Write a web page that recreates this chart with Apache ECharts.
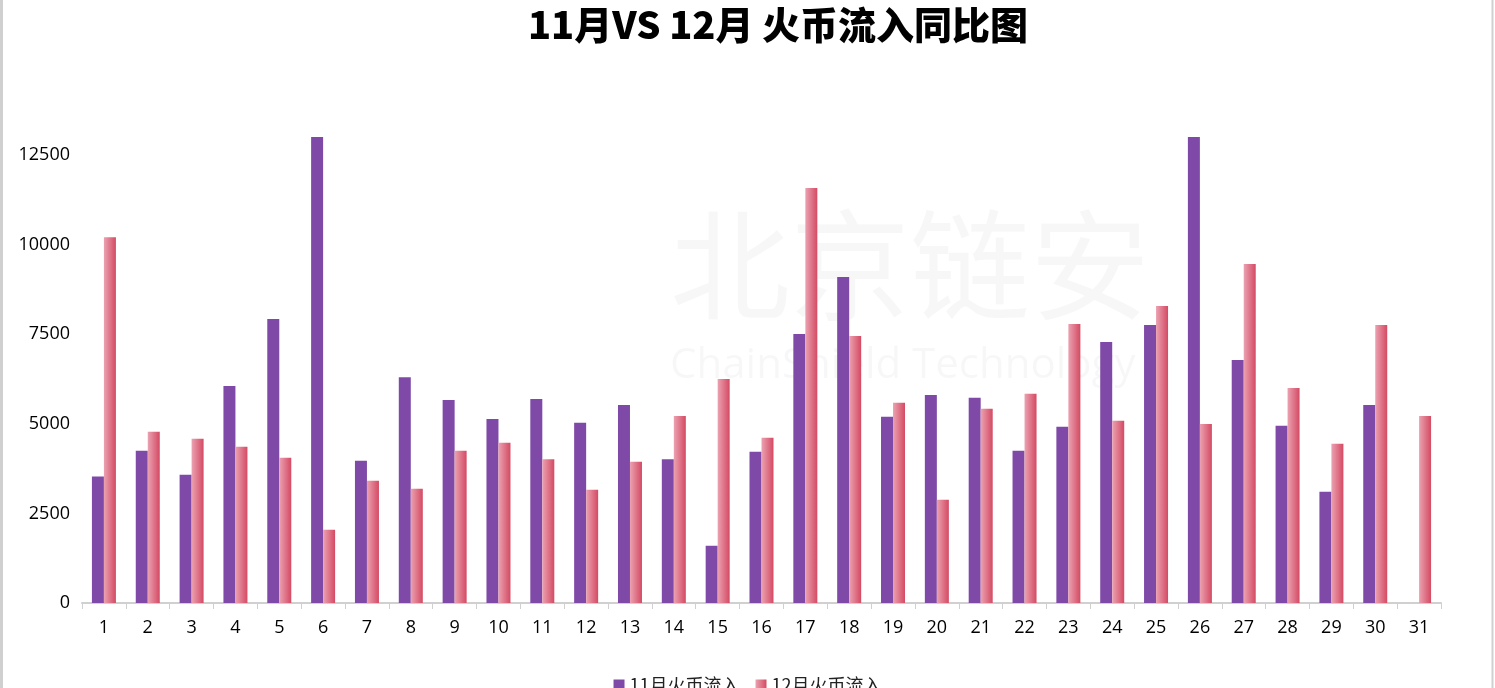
<!DOCTYPE html>
<html>
<head>
<meta charset="utf-8">
<script src="https://cdn.jsdelivr.net/npm/echarts@6/dist/echarts.min.js"></script>
<style>
html,body{margin:0;padding:0;background:#fff;}
#chart{width:1495px;height:688px;}
</style>
</head>
<body>
<div id="chart"></div>
<script>
var categories = ['1','2','3','4','5','6','7','8','9','10','11','12','13','14','15','16','17','18','19','20','21','22','23','24','25','26','27','28','29','30','31'];
var novValues = [3530,4245,3576,6056,7924,13000,3966,6299,5666,5136,5694,5025,5527,4013,1597,4217,7506,9094,5193,5806,5723,4245,4914,7283,7757,13000,6781,4942,3102,5527,null];
var decValues = [10200,4774,4579,4356,4050,2043,3409,3186,4245,4468,4013,3158,3938,5220,6251,4607,11575,7450,5583,2880,5416,5834,7784,5081,8286,4997,9456,6000,4440,7757,5220];
var seriesNames = ['11月火币流入','12月火币流入'];
var titleText = '11月VS 12月 火币流入同比图';

var chart = echarts.init(document.getElementById('chart'));
var pinkGrad = new echarts.graphic.LinearGradient(0,0,1,0,[
  {offset:0,color:'#eba2b1'},
  {offset:1,color:'#d44a63'}
]);
chart.setOption({
  animation:false,
  backgroundColor:'#fff',
  title:{
    text:titleText,
    left:773, top:1, textAlign:'center',
    textStyle:{fontFamily:'"Noto Sans CJK SC","Noto Sans",sans-serif',fontSize:38,fontWeight:900,color:'#000'}
  },
  graphic:[
    {type:'line',shape:{x1:1.5,y1:0,x2:1.5,y2:688},style:{stroke:'#d0d0d0',lineWidth:3}},
    {type:'line',shape:{x1:1492.5,y1:0,x2:1492.5,y2:688},style:{stroke:'#d0d0d0',lineWidth:2}},
    {type:'text',left:670,top:205,z:-1,style:{text:'北京链安',fontSize:120,fontFamily:'"Noto Sans CJK SC",sans-serif',fill:'rgba(0,0,0,0.03)'}},
    {type:'text',left:670,top:345,z:-1,style:{text:'ChainShield Technology',fontSize:42,fontFamily:'"Open Sans",sans-serif',fill:'rgba(0,0,0,0.03)'}}
  ],
  legend:{
    data:seriesNames,
    left:'center', top:671,
    itemWidth:11, itemHeight:11, itemGap:16,
    textStyle:{fontFamily:'"Noto Sans CJK SC",sans-serif',fontSize:18,color:'#222'},
    icon:'rect'
  },
  grid:{left:82,right:54,top:137,bottom:85,containLabel:false},
  xAxis:{
    type:'category',
    data:categories,
    axisLine:{lineStyle:{color:'#d0d0d0',width:2}},
    axisTick:{show:true,length:6,lineStyle:{color:'#d0d0d0'}},
    axisLabel:{color:'#000',fontSize:18,fontFamily:'"Open Sans","Noto Sans",sans-serif',margin:16}
  },
  yAxis:{
    type:'value',
    min:0,max:13000,interval:2500,
    axisLine:{show:false},
    axisTick:{show:false},
    splitLine:{show:false},
    axisLabel:{color:'#000',fontSize:18,fontFamily:'"Open Sans","Noto Sans",sans-serif',margin:12,showMaxLabel:false,formatter:function(v){return String(v);}}
  },
  series:[
    {name:seriesNames[0],type:'bar',data:novValues,barWidth:12,barGap:'0%',itemStyle:{color:'#7f4aa7'}},
    {name:seriesNames[1],type:'bar',data:decValues,barWidth:12,barGap:'0%',itemStyle:{color:pinkGrad}}
  ]
});
</script>
</body>
</html>
